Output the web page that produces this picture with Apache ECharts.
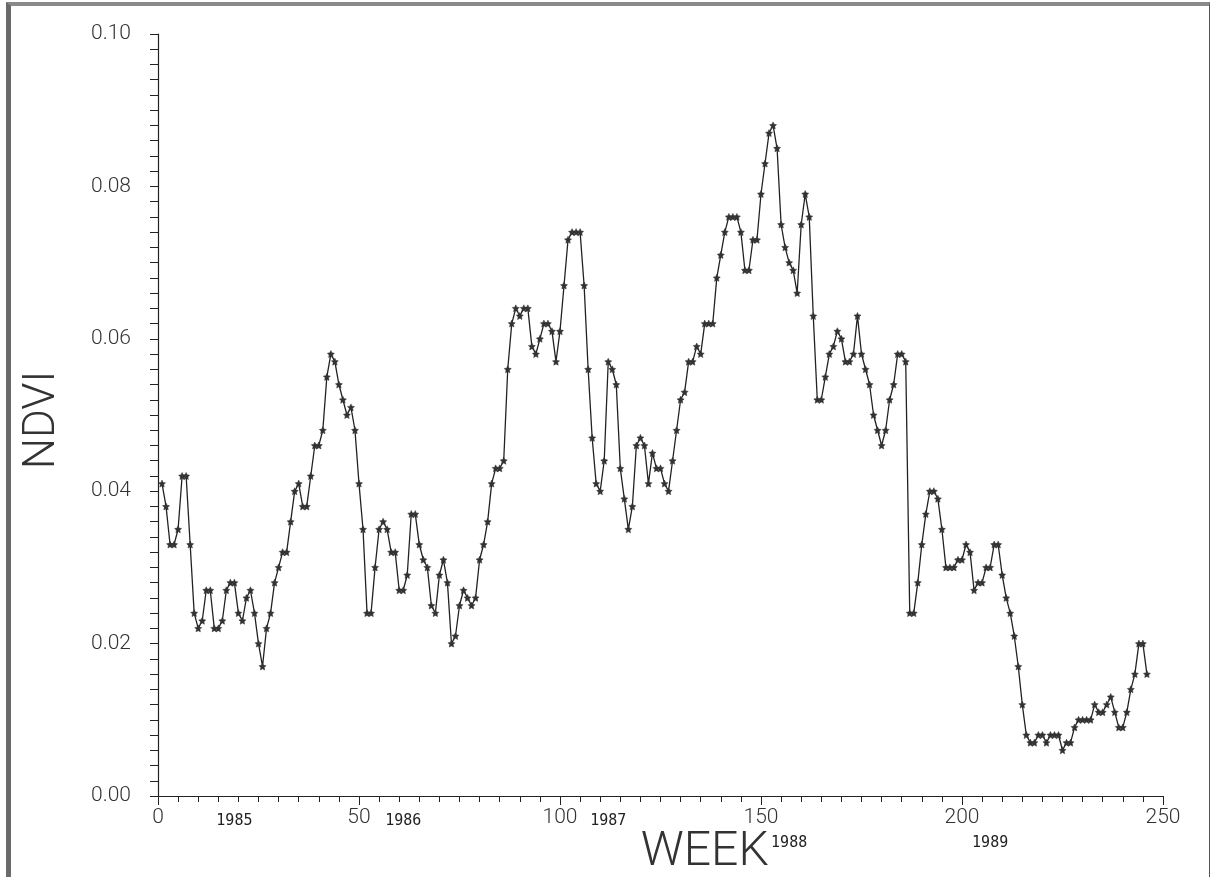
<!DOCTYPE html>
<html>
<head>
<meta charset="utf-8">
<title>NDVI by week</title>
<script src="https://cdn.jsdelivr.net/npm/echarts@6/dist/echarts.min.js"></script>
<style>
  html, body { margin: 0; padding: 0; background: #fff; }
  #wrap { position: relative; width: 1210px; height: 877px; overflow: hidden; }
  #chart { position: absolute; left: 0; top: 0; width: 1210px; height: 877px; }
  #frame {
    position: absolute; left: 6px; top: 2px; width: 1198px; height: 900px;
    border-left: 5px solid #6a6a6a; border-top: 4px solid #8a8a8a; border-right: 1px solid #555;
    pointer-events: none;
  }
</style>
</head>
<body>
<div id="wrap">
  <div id="chart"></div>
  <div id="frame"></div>
</div>
<script>
// weekly NDVI, week 1 onwards (1985-1989)
const ndvi = [
  0.041, 0.038, 0.033, 0.033, 0.035, 0.042, 0.042, 0.033, 0.024, 0.022,
  0.023, 0.027, 0.027, 0.022, 0.022, 0.023, 0.027, 0.028, 0.028, 0.024,
  0.023, 0.026, 0.027, 0.024, 0.020, 0.017, 0.022, 0.024, 0.028, 0.030,
  0.032, 0.032, 0.036, 0.040, 0.041, 0.038, 0.038, 0.042, 0.046, 0.046,
  0.048, 0.055, 0.058, 0.057, 0.054, 0.052, 0.050, 0.051, 0.048, 0.041,
  0.035, 0.024, 0.024, 0.030, 0.035, 0.036, 0.035, 0.032, 0.032, 0.027,
  0.027, 0.029, 0.037, 0.037, 0.033, 0.031, 0.030, 0.025, 0.024, 0.029,
  0.031, 0.028, 0.020, 0.021, 0.025, 0.027, 0.026, 0.025, 0.026, 0.031,
  0.033, 0.036, 0.041, 0.043, 0.043, 0.044, 0.056, 0.062, 0.064, 0.063,
  0.064, 0.064, 0.059, 0.058, 0.060, 0.062, 0.062, 0.061, 0.057, 0.061,
  0.067, 0.073, 0.074, 0.074, 0.074, 0.067, 0.056, 0.047, 0.041, 0.040,
  0.044, 0.057, 0.056, 0.054, 0.043, 0.039, 0.035, 0.038, 0.046, 0.047,
  0.046, 0.041, 0.045, 0.043, 0.043, 0.041, 0.040, 0.044, 0.048, 0.052,
  0.053, 0.057, 0.057, 0.059, 0.058, 0.062, 0.062, 0.062, 0.068, 0.071,
  0.074, 0.076, 0.076, 0.076, 0.074, 0.069, 0.069, 0.073, 0.073, 0.079,
  0.083, 0.087, 0.088, 0.085, 0.075, 0.072, 0.070, 0.069, 0.066, 0.075,
  0.079, 0.076, 0.063, 0.052, 0.052, 0.055, 0.058, 0.059, 0.061, 0.060,
  0.057, 0.057, 0.058, 0.063, 0.058, 0.056, 0.054, 0.050, 0.048, 0.046,
  0.048, 0.052, 0.054, 0.058, 0.058, 0.057, 0.024, 0.024, 0.028, 0.033,
  0.037, 0.040, 0.040, 0.039, 0.035, 0.030, 0.030, 0.030, 0.031, 0.031,
  0.033, 0.032, 0.027, 0.028, 0.028, 0.030, 0.030, 0.033, 0.033, 0.029,
  0.026, 0.024, 0.021, 0.017, 0.012, 0.008, 0.007, 0.007, 0.008, 0.008,
  0.007, 0.008, 0.008, 0.008, 0.006, 0.007, 0.007, 0.009, 0.010, 0.010,
  0.010, 0.010, 0.012, 0.011, 0.011, 0.012, 0.013, 0.011, 0.009, 0.009,
  0.011, 0.014, 0.016, 0.020, 0.020, 0.016
];
const firstWeek = 1;

// year annotations written under the week axis
const yearLabels = ['1985', '1986', '1987', '1988', '1989'];
const yearWeeks = [19, 61, 112, 157, 207];
const yearRow = [0, 0, 0, 1, 1];

const starPath = 'path://M0,-10L2.9,-4L9.5,-3.1L4.7,1.5L5.9,8.1L0,5L-5.9,8.1L-4.7,1.5L-9.5,-3.1L-2.9,-4Z';
const ink = '#222';
const thinFont = 'Roboto, "DejaVu Sans", sans-serif';

const points = ndvi.map((v, i) => [firstWeek + i, v]);

let mychart = echarts.init(document.getElementById('chart'), null, { renderer: 'canvas' });

mychart.setOption({
  animation: false,
  backgroundColor: '#fff',
  grid: { left: 158, right: 47, top: 34, bottom: 81, containLabel: false },
  xAxis: {
    type: 'value',
    min: 0,
    max: 250,
    interval: 50,
    axisLine: { show: true, onZero: false, lineStyle: { color: ink, width: 1.2 } },
    axisTick: { show: true, inside: false, length: 9, lineStyle: { color: ink, width: 1 } },
    minorTick: { show: true, splitNumber: 10, length: 6, lineStyle: { color: ink, width: 1 } },
    splitLine: { show: false },
    axisLabel: { color: '#333', fontSize: 21, fontFamily: thinFont, fontWeight: 300, margin: 11 }
  },
  yAxis: {
    type: 'value',
    min: 0,
    max: 0.1,
    interval: 0.02,
    axisLine: { show: true, onZero: false, lineStyle: { color: ink, width: 1.2 } },
    axisTick: { show: true, inside: false, length: 8, lineStyle: { color: ink, width: 1 } },
    minorTick: { show: true, splitNumber: 10, length: 8, lineStyle: { color: ink, width: 1 } },
    splitLine: { show: false },
    axisLabel: {
      color: '#333', fontSize: 21, fontFamily: thinFont, fontWeight: 300, margin: 27,
      formatter: v => v.toFixed(2)
    }
  },
  series: [
    {
      type: 'line',
      data: points,
      symbol: starPath,
      symbolSize: 7,
      showAllSymbol: true,
      lineStyle: { color: ink, width: 1.3 },
      itemStyle: { color: '#333', borderColor: '#333', borderWidth: 0.5 },
      emphasis: { disabled: true }
    }
  ]
});

// axis titles and year annotations, positioned from the axes themselves
function placeText() {
  const yTop = mychart.convertToPixel({ yAxisIndex: 0 }, 0.1);
  const yBot = mychart.convertToPixel({ yAxisIndex: 0 }, 0);
  const xLeft = mychart.convertToPixel({ xAxisIndex: 0 }, 0);
  const elements = [
    {
      type: 'text',
      x: xLeft - 115,
      y: (yTop + yBot) / 2 + 5,
      rotation: Math.PI / 2,
      style: {
        text: 'NDVI', fill: '#333', font: '300 44px ' + thinFont,
        align: 'center', verticalAlign: 'middle'
      }
    },
    {
      type: 'text',
      x: mychart.convertToPixel({ xAxisIndex: 0 }, 136),
      y: yBot + 57,
      style: {
        text: 'WEEK', fill: '#333', font: '300 48px ' + thinFont,
        align: 'center', verticalAlign: 'middle'
      }
    }
  ];
  yearLabels.forEach((lab, i) => {
    elements.push({
      type: 'text',
      x: mychart.convertToPixel({ xAxisIndex: 0 }, yearWeeks[i]),
      y: yBot + 25 + yearRow[i] * 22,
      style: {
        text: lab, fill: '#222', font: '15px "DejaVu Sans Mono", monospace',
        align: 'center', verticalAlign: 'middle'
      }
    });
  });
  mychart.setOption({ graphic: elements });
}
placeText();
</script>
</body>
</html>
